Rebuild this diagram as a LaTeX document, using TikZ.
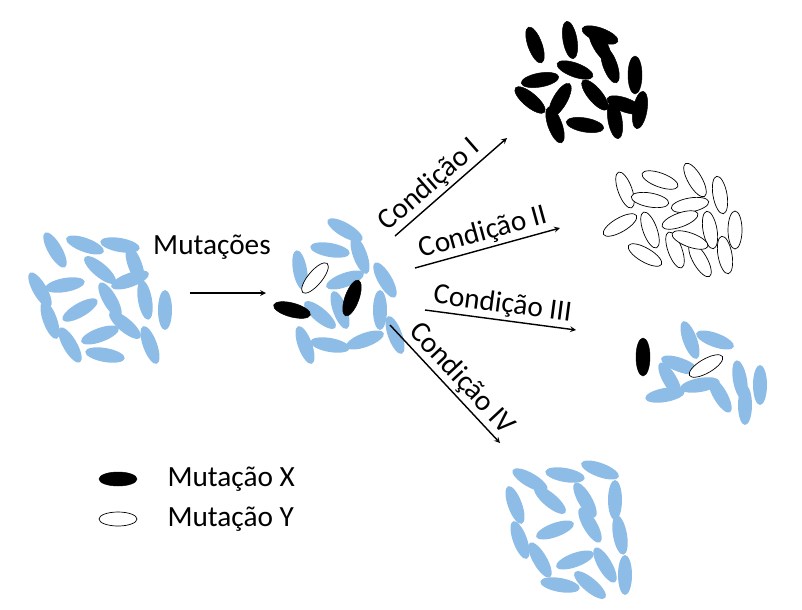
\documentclass[tikz,border=0pt]{standalone}
\usepackage{fontspec}
\setmainfont{Carlito}
\usetikzlibrary{positioning}
\definecolor{cellblue}{RGB}{141,189,230}
\tikzset{cell/.style={fill=cellblue,draw=none},
  mutx/.style={fill=black,draw=black},
  muty/.style={fill=white,draw=black,line width=0.6pt},
  lbl/.style={font=\fontsize{25}{28}\selectfont,inner sep=2pt}}
\newcommand{\bact}[4]{\fill[#4] (#1,#2) ellipse[x radius=20,y radius=7,rotate=#3];}
\newcommand{\bactd}[4]{\filldraw[#4] (#1,#2) ellipse[x radius=19,y radius=7,rotate=#3];}
\begin{document}
\begin{tikzpicture}[x=0.3mm,y=-0.3mm,>=stealth]
\useasboundingbox (0,0) rectangle (802,609);
% left cluster
\foreach \x/\y/\a in {55/250/-60,85/245/-20,120/245/-10,65/285/10,100/270/-40,135/265/-70,
  50/320/-70,80/310/30,110/300/-60,145/300/-80,165/310/-90,70/345/-60,100/335/20,125/325/-40,
  150/345/-70,105/355/-10,40/290/-60,130/280/20}
  {\bact{\x}{\y}{\a}{cell}}
% middle cluster
\foreach \x/\y/\a in {330/250/-10,360/255/-70,300/270/-80,345/280/20,385/280/-60,380/310/-90,
  320/315/-40,305/345/-70,330/345/-10,365/340/20,395/335/-70,345/230/-30,340/310/-70}
  {\bact{\x}{\y}{\a}{cell}}
\bactd{315}{278}{50}{muty}
\bactd{292}{310}{-15}{mutx}
\bactd{352}{298}{70}{mutx}
% top black cluster
\foreach \x/\y/\a in {535/45/-70,570/40/-80,600/35/-20,540/80/10,575/70/-20,610/65/-70,
  635/75/-90,530/100/-40,560/100/60,595/95/-50,625/105/-20,555/125/-70,585/125/-10,
  615/120/-80,600/45/-60,640/110/80}
  {\bactd{\x}{\y}{\a}{mutx}}
% white cluster
\foreach \x/\y/\a in {625/190/-70,660/180/-20,695/180/-60,650/200/-10,690/205/10,720/195/-80,
  620/225/30,650/230/-70,680/220/20,710/230/-80,735/230/-90,645/255/-30,675/250/-70,
  700/260/-60,725/255/-80,690/240/-20}
  {\bactd{\x}{\y}{\a}{muty}}
% mixed cluster
\foreach \x/\y/\a in {690/340/-70,715/340/-20,680/365/-20,670/380/-60,700/385/10,
  740/380/-80,760/385/-90,720/395/-60,665/395/10,745/405/-90}
  {\bact{\x}{\y}{\a}{cell}}
\bactd{643}{357}{90}{mutx}
\bactd{706}{366}{30}{muty}
% bottom cluster
\foreach \x/\y/\a in {530/480/-30,565/475/-10,600/470/-20,515/505/-70,550/500/-40,585/500/-60,
  615/500/-90,520/540/-70,555/530/20,590/525/-60,620/535/-80,540/560/-60,575/560/20,
  605/565/-60,625/575/-90,560/585/-10,590/585/-40}
  {\bact{\x}{\y}{\a}{cell}}
% arrows
\coordinate (m0) at (190,293); \coordinate (m1) at (266,293);
\draw[->,line width=1.2pt] (m0) -- (m1);
\node[lbl] (mut) at (212,247) {Mutações};
\coordinate (a0) at (395,236); \coordinate (a1) at (507,138);
\draw[->,line width=1.2pt] (a0) -- node[lbl,sloped,above,pos=0.4] (c1) {Condição I} (a1);
\coordinate (b0) at (415,268); \coordinate (b1) at (560,228);
\draw[->,line width=1.2pt] (b0) -- node[lbl,sloped,above] (c2) {Condição II} (b1);
\coordinate (d0) at (425,310); \coordinate (d1) at (576,330);
\draw[->,line width=1.2pt] (d0) -- node[lbl,sloped,above] (c3) {Condição III} (d1);
\coordinate (e0) at (390,325); \coordinate (e1) at (500,443);
\draw[->,line width=1.2pt] (e0) -- node[lbl,sloped,above,pos=0.55] (c4) {Condição IV} (e1);
% legend
\bactd{118}{479}{0}{mutx}
\bactd{118}{519}{0}{muty}
\node[lbl,anchor=west] (lx) at (165,479) {Mutação X};
\node[lbl,anchor=west] (ly) at (165,519) {Mutação Y};
\end{tikzpicture}
\end{document}
